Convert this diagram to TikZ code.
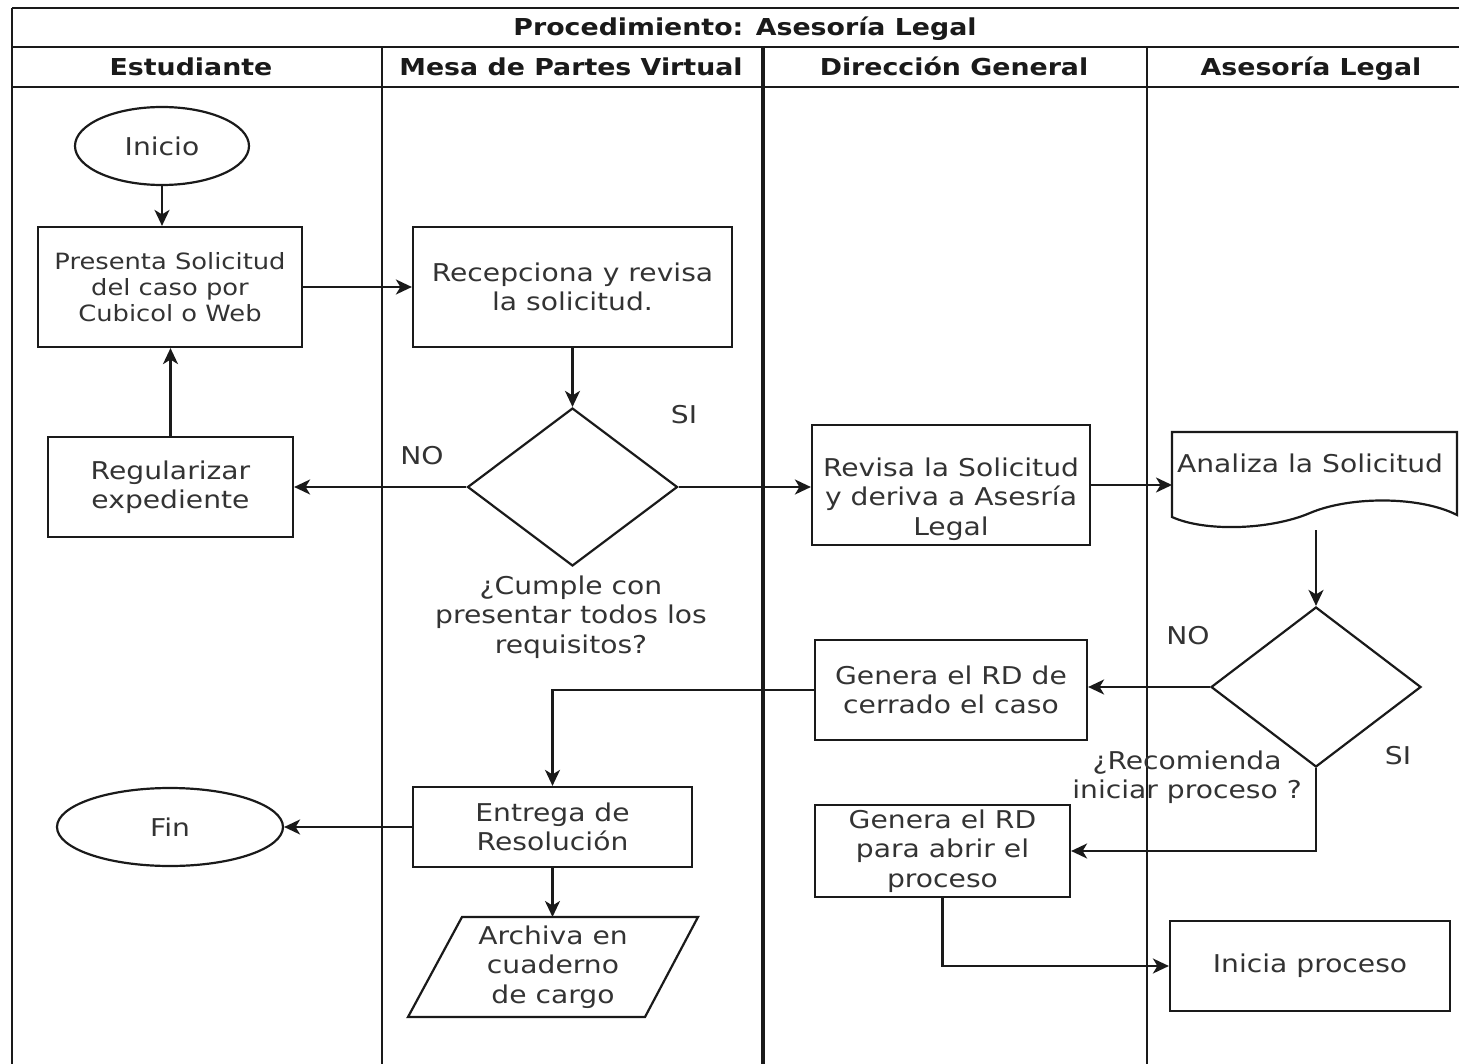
\documentclass[tikz,border=0pt]{standalone}
\usepackage{fontspec}
\setmainfont{DejaVu Sans}[FakeStretch=1.15]
\usetikzlibrary{shapes.geometric,arrows.meta}
\definecolor{ink}{HTML}{1A1A1A}
\definecolor{txtc}{HTML}{333333}
\begin{document}
\begin{tikzpicture}[x=1pt,y=-1pt,line width=2.2pt,
  body/.style={font=\fontsize{24.5}{29.5}\selectfont},
  box/.style={draw=ink,rectangle,inner sep=0pt,text=txtc,align=center,body},
  oval/.style={draw=ink,ellipse,inner sep=0pt,text=txtc,body},
  decision/.style={draw=ink,diamond,inner sep=0pt},
  shapeline/.style={draw=ink},
  txt/.style={text=txtc,align=center,inner sep=0pt,body},
  hd/.style={text=ink,inner sep=0pt,text height=17pt,text depth=5pt,
    font=\bfseries\fontsize{23.3}{28}\selectfont},
  flow/.style={draw=ink,-{Stealth[length=16pt,width=15pt,inset=4.5pt]}},
  lane/.style={draw=ink,line width=2.2pt}]
\useasboundingbox (0,0) rectangle (1459,1064);

% pool frame and lanes
\draw[lane] (12,8) -- (1459,8);
\draw[lane] (12,47) -- (1459,47);
\draw[lane] (12,87) -- (1459,87);
\draw[lane] (12,8) -- (12,1064);
\draw[lane] (382,47) -- (382,1064);
\draw[lane,line width=3.2pt] (763,47) -- (763,1064);
\draw[lane] (1147,47) -- (1147,1064);

\node[hd] (title) at (745,30) {Procedimiento: Asesoría Legal};
\node[hd] (h1) at (191,70) {Estudiante};
\node[hd] (h2) at (571,70) {Mesa de Partes Virtual};
\node[hd] (h3) at (954,70) {Dirección General};
\node[hd] (h4) at (1311,70) {Asesoría Legal};

% Estudiante
\node[oval,minimum width=174pt,minimum height=78pt] (inicio) at (162,146) {Inicio};
\node[box,minimum width=264pt,minimum height=120pt,font=\fontsize{22.4}{26}\selectfont]
  (presenta) at (170,287) {Presenta Solicitud\\del caso por\\Cubicol o Web};
\node[box,minimum width=245pt,minimum height=100pt] (regul) at (170.5,487) {Regularizar\\expediente};
\node[oval,minimum width=226pt,minimum height=78pt] (fin) at (170,827) {Fin};

% Mesa de Partes Virtual
\node[box,minimum width=319pt,minimum height=120pt] (recep) at (572.5,287) {Recepciona y revisa\\la solicitud.};
\node[decision,minimum width=210pt,minimum height=158pt] (d1) at (572.5,487) {};
\node[txt] (q1) at (571,617) {¿Cumple con\\presentar todos los\\requisitos?};
\node[txt] (si1) at (684,415) {SI};
\node[txt] (no1) at (422,456) {NO};
\node[box,minimum width=279pt,minimum height=80pt] (entrega) at (552.5,827) {Entrega de\\Resolución};
\draw[shapeline] (462,917) -- (698,917) -- (645,1017) -- (408,1017) -- cycle;
\coordinate (archtop) at (552.5,917);
\node[txt] (archiva) at (553,967) {Archiva en\\cuaderno\\de cargo};

% Dirección General
\node[box,minimum width=278pt,minimum height=120pt] (revisa) at (951,485) {};
\node[txt] (revisatxt) at (951,499) {Revisa la Solicitud\\y deriva a Asesría\\Legal};
\node[box,minimum width=272pt,minimum height=100pt] (gencerr) at (951,690) {Genera el RD de\\cerrado el caso};
\node[box,minimum width=255pt,minimum height=92pt] (genabr) at (942.5,851) {Genera el RD\\para abrir el\\proceso};

% Asesoría Legal
\draw[shapeline] (1172,432) -- (1457,432) -- (1457,515)
  .. controls (1420,496) and (1350,496) .. (1310,513)
  .. controls (1270,530) and (1205,532) .. (1172,517) -- cycle;
\coordinate (anain) at (1172,485);
\coordinate (anaout) at (1316,530);
\node[txt] (analiza) at (1310,463) {Analiza la Solicitud};
\node[decision,minimum width=210pt,minimum height=160pt] (d2) at (1316,687) {};
\node[txt] (no2) at (1188,636) {NO};
\node[txt] (si2) at (1398,756) {SI};
\node[txt] (q2) at (1187,777) {¿Recomienda\\iniciar proceso ?};
\node[box,minimum width=280pt,minimum height=90pt] (inicia) at (1310,966) {Inicia proceso};

% connectors
\draw[flow] (inicio.south) -- (inicio.south |- presenta.north);
\draw[flow] (presenta.east) -- (recep.west);
\draw[flow] (recep.south) -- (d1.north);
\draw[flow] (d1.west) -- (regul.east);
\draw[flow] (regul.north) -- (regul.north |- presenta.south);
\draw[flow] (d1.east) -- (d1.east -| revisa.west);
\draw[flow] (revisa.east) -- (revisa.east -| anain);
\draw[flow] (anaout) -- (d2.north);
\draw[flow] (d2.west) -- (d2.west -| gencerr.east);
\draw[flow] (gencerr.west) -| (entrega.north);
\draw[flow] (entrega.west) -- (fin.east);
\draw[flow] (entrega.south) -- (archtop);
\draw[flow] (d2.south) |- (genabr.east);
\draw[flow] (genabr.south) |- (inicia.west);
\end{tikzpicture}
\end{document}
